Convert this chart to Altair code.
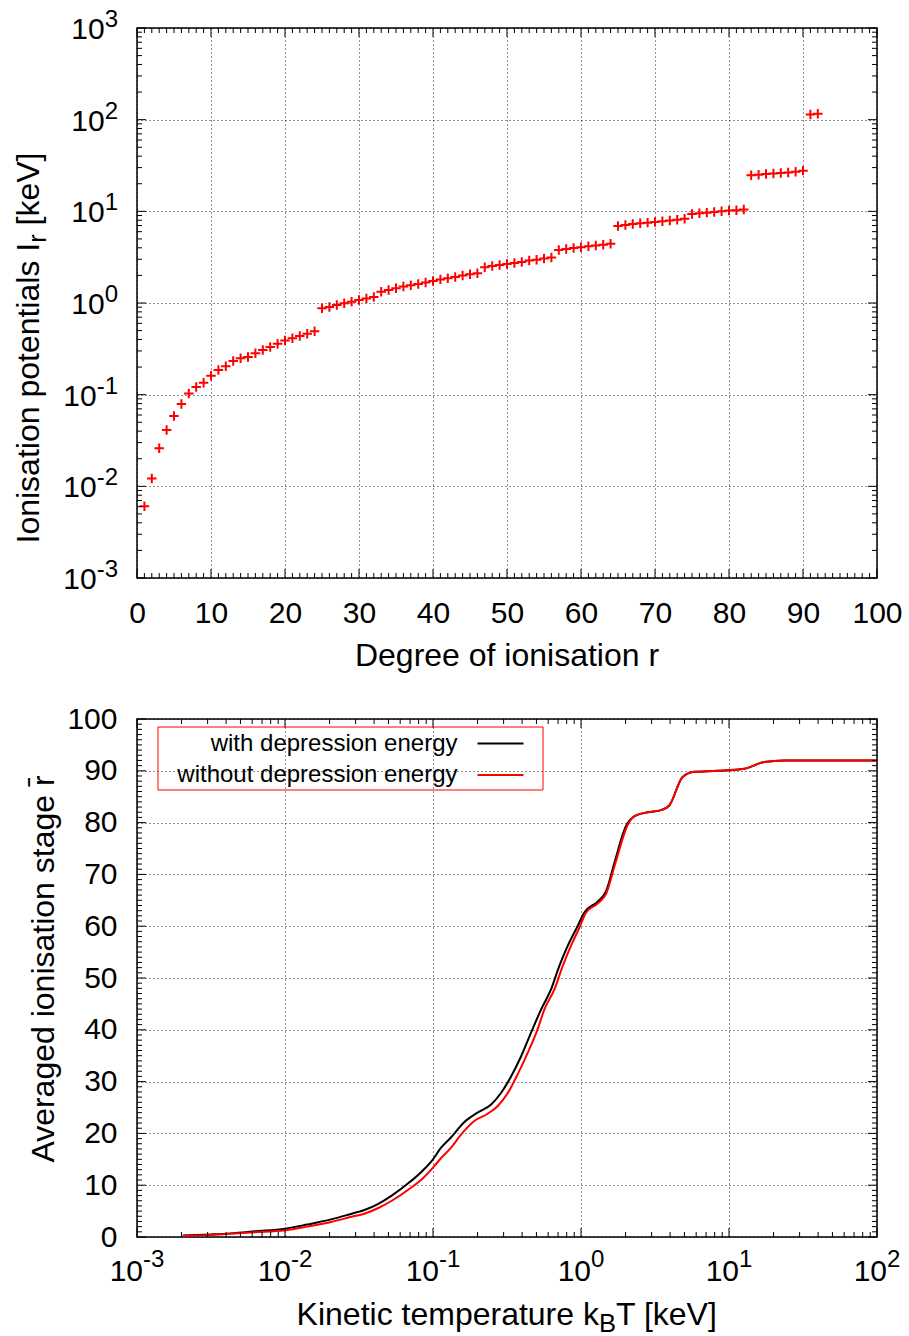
import altair as alt
import pandas as pd

FONT = "Liberation Sans"

# ---------------- data: top panel (ionisation potentials) ----------------
ion_stage = list(range(1, 93))
ion_potential_keV = [
    0.00607, 0.0122, 0.026, 0.0412, 0.0586, 0.0792, 0.103, 0.121, 0.135, 0.161,
    0.186, 0.204, 0.233, 0.249, 0.258, 0.283, 0.307, 0.331, 0.36, 0.389,
    0.412, 0.436, 0.463, 0.491, 0.875, 0.904, 0.951, 0.993, 1.035, 1.08,
    1.12, 1.16, 1.33, 1.39, 1.45, 1.51, 1.56, 1.61, 1.67, 1.74,
    1.81, 1.86, 1.92, 1.99, 2.06, 2.11, 2.45, 2.53, 2.59, 2.66,
    2.73, 2.80, 2.90, 2.97, 3.05, 3.13, 3.78, 3.88, 3.98, 4.05,
    4.15, 4.23, 4.33, 4.44, 6.92, 7.09, 7.27, 7.40, 7.53, 7.64,
    7.78, 7.92, 8.11, 8.32, 9.35, 9.51, 9.68, 9.83, 10.0, 10.2,
    10.3, 10.5, 24.7, 25.1, 25.5, 25.8, 26.2, 26.6, 27.1, 27.8,
    114, 116,
]

# ---------------- data: bottom panel (averaged ionisation stage) ----------------
temp_with_keV = [
    0.00204, 0.00316, 0.00432, 0.00631, 0.01, 0.0141, 0.0205, 0.0282, 0.0344, 0.0427,
    0.052, 0.071, 0.0851, 0.1, 0.113, 0.132, 0.163, 0.2, 0.247, 0.288,
    0.337, 0.394, 0.459, 0.537, 0.627, 0.713, 0.813, 0.948, 1.05, 1.30,
    1.48, 1.68, 2.01, 2.29, 2.82, 3.48, 3.95, 4.86, 5.83, 8.39,
    12.7, 17.3, 23.6, 100,
]
stage_with = [
    0.3, 0.5, 0.7, 1.1, 1.6, 2.4, 3.4, 4.5, 5.2, 6.4,
    7.9, 10.8, 12.8, 15.0, 17.2, 19.2, 22.2, 24.0, 25.6, 27.8,
    31.0, 34.9, 39.4, 43.9, 47.8, 52.3, 56.2, 60.0, 62.6, 64.8,
    66.8, 72.2, 79.3, 81.2, 82.0, 82.4, 83.3, 88.8, 89.8, 90.0,
    90.4, 91.7, 92.0, 92.0,
]
temp_without_keV = [
    0.00204, 0.00316, 0.00631, 0.01, 0.0141, 0.0205, 0.0282, 0.0344, 0.0427, 0.052,
    0.071, 0.0851, 0.1, 0.113, 0.132, 0.155, 0.19, 0.234, 0.274, 0.32,
    0.373, 0.437, 0.509, 0.565, 0.661, 0.752, 0.855, 0.975, 1.08, 1.30,
    1.48, 1.72, 2.07, 2.29, 2.82, 3.48, 3.95, 4.86, 5.83, 8.39,
    12.7, 17.3, 23.6, 100,
]
stage_without = [
    0.2, 0.4, 0.9, 1.3, 2.0, 2.9, 3.9, 4.5, 5.6, 6.9,
    9.5, 11.3, 13.4, 15.2, 17.2, 19.8, 22.4, 23.8, 25.3, 27.8,
    31.4, 35.6, 40.1, 43.9, 47.8, 52.3, 56.2, 59.7, 62.6, 64.4,
    66.3, 72.5, 79.6, 81.2, 82.0, 82.4, 83.3, 88.8, 89.8, 90.0,
    90.4, 91.7, 92.0, 92.0,
]
series_names = ["with depression energy", "without depression energy"]
series_colors = ["#000000", "#ff0000"]

# ---------------- tick values ----------------
top_x_major = list(range(0, 101, 10))
top_x_minor = [v for v in range(1, 100) if v % 10]
top_y_decades = [1e-3, 1e-2, 1e-1, 1e0, 1e1, 1e2, 1e3]
top_y_exponents = ["-3", "-2", "-1", "0", "1", "2", "3"]
top_y_minor = [k * d for d in top_y_decades[:-1] for k in range(2, 10)]
bot_x_decades = [1e-3, 1e-2, 1e-1, 1e0, 1e1, 1e2]
bot_x_exponents = ["-3", "-2", "-1", "0", "1", "2"]
bot_x_minor = [k * d for d in bot_x_decades[:-1] for k in range(2, 10)]
bot_y_major = list(range(0, 101, 10))
bot_y_minor = [v for v in range(1, 100) if v % 10]

# ---------------- layout / style ----------------
W, H1, H2 = 740, 550, 518
LBL, TTL, EXP, LEG = 30, 32, 24, 24
MAJ, MIN = 9, 5

ARIAL = {' ': 278, '[': 278, ']': 278, 'I': 278, 'A': 667, 'B': 667, 'D': 722, 'K': 667,
         'T': 611, 'V': 667, 'a': 556, 'c': 500, 'd': 556, 'e': 556, 'g': 556, 'h': 556,
         'i': 222, 'k': 500, 'l': 222, 'm': 833, 'n': 556, 'o': 556, 'p': 556, 'r': 333,
         's': 500, 't': 278, 'u': 556, 'v': 500, 'w': 722, 'y': 500, 'f': 278, '-': 333}


def tw(s, size):
    return sum(ARIAL.get(c, 556) for c in s) * size / 1000.0


grid_kw = dict(grid=True, gridDash=[1, 3], gridColor="#000000", gridOpacity=0.85,
               gridWidth=1, ticks=False, domain=False, title=None)

# scales and axes (the same objects are reused by every layer that shares a channel)
xs1 = alt.Scale(domain=[0, 100], nice=False, zero=False)
ys1 = alt.Scale(type="log", domain=[1e-3, 1e3], nice=False)
xs2 = alt.Scale(type="log", domain=[1e-3, 1e2], nice=False)
ys2 = alt.Scale(domain=[0, 100], nice=False, zero=False)

ax_x1 = alt.Axis(values=top_x_major, labelFont=FONT, labelFontSize=LBL, labelPadding=20,
                 labelFlush=False, labelColor="black", labelOverlap=False, **grid_kw)
ax_y1 = alt.Axis(values=top_y_decades, labels=False, **grid_kw)
ax_x2 = alt.Axis(values=bot_x_decades, labels=False, **grid_kw)
ax_y2 = alt.Axis(values=bot_y_major, labelFont=FONT, labelFontSize=LBL, labelPadding=20,
                 labelColor="black", labelFlush=False, labelOverlap=False, **grid_kw)

AXES = {"r": (xs1, ax_x1), "I": (ys1, ax_y1), "T": (xs2, ax_x2), "rbar": (ys2, ax_y2)}


def X(field):
    s, a = AXES[field]
    return alt.X(f"{field}:Q", scale=s, axis=a)


def Y(field):
    s, a = AXES[field]
    return alt.Y(f"{field}:Q", scale=s, axis=a)


def rules(vals, field, side, length, H):
    df = pd.DataFrame({field: vals})
    base = alt.Chart(df).mark_rule(color="black", strokeWidth=1)
    if side in ("bottom", "top"):
        enc = dict(x=X(field))
        if side == "bottom":
            enc.update(y=alt.value(H), y2=alt.value(H - length))
        else:
            enc.update(y=alt.value(0), y2=alt.value(length))
    else:
        enc = dict(y=Y(field))
        if side == "left":
            enc.update(x=alt.value(0), x2=alt.value(length))
        else:
            enc.update(x=alt.value(W), x2=alt.value(W - length))
    return base.encode(**enc)


def text_at(s, x, y, size, align="left", baseline="alphabetic", angle=0):
    kw = dict(font=FONT, fontSize=size, align=align, baseline=baseline, color="black")
    if angle:
        kw["angle"] = angle
    return alt.Chart(pd.DataFrame({"t": [s]})).mark_text(**kw).encode(
        text="t:N", x=alt.value(x), y=alt.value(y))


# ======================= top panel =======================
df_top = pd.DataFrame({"r": ion_stage, "I": ion_potential_keV})
CROSS = "M-1,0L1,0M0,-1L0,1"

top_points = alt.Chart(df_top).mark_point(
    shape=CROSS, filled=False, stroke="#ff0000", strokeWidth=2, size=90, opacity=1
).encode(x=X("r"), y=Y("I"))

top_ticks = [
    rules(top_x_major, "r", "bottom", MAJ, H1), rules(top_x_major, "r", "top", MAJ, H1),
    rules(top_x_minor, "r", "bottom", MIN, H1), rules(top_x_minor, "r", "top", MIN, H1),
    rules(top_y_decades, "I", "left", MAJ, H1), rules(top_y_decades, "I", "right", MAJ, H1),
    rules(top_y_minor, "I", "left", MIN, H1), rules(top_y_minor, "I", "right", MIN, H1),
]

df_tyl = pd.DataFrame({"I": top_y_decades, "base": ["10"] * len(top_y_decades), "exp": top_y_exponents})
tyl_neg = df_tyl[df_tyl["exp"].str.startswith("-")]
tyl_pos = df_tyl[~df_tyl["exp"].str.startswith("-")]


def ylab10(df, xoff):
    return alt.Chart(df).mark_text(font=FONT, fontSize=LBL, align="right", baseline="middle",
                                   dy=2, color="black").encode(
        y=Y("I"), x=alt.value(xoff), text="base:N")


top_ylabels = [
    ylab10(tyl_neg, -19 - tw("-3", EXP)),
    ylab10(tyl_pos, -19 - tw("3", EXP)),
    alt.Chart(df_tyl).mark_text(font=FONT, fontSize=EXP, align="right", baseline="middle",
                                dy=-8, color="black").encode(
        y=Y("I"), x=alt.value(-19), text="exp:N"),
]

top_xtitle = text_at("Degree of ionisation r", W / 2, H1 + 88, TTL, align="center")

# rotated y title with subscript r
yc1, xb1 = 320, -98
p1 = "Ionisation potentials I"
w1 = tw(p1, TTL)
w2 = tw("r", TTL * 0.8)
wsp = tw(" ", TTL)
start1 = yc1 + (w1 + w2 + wsp + tw("[keV]", TTL)) / 2
top_ytitle = [
    text_at(p1, xb1, start1, TTL, angle=270),
    text_at("r", xb1 + 7, start1 - w1, TTL * 0.8, angle=270),
    text_at("[keV]", xb1, start1 - w1 - w2 - wsp, TTL, angle=270),
]

top = alt.layer(top_points, *top_ticks, *top_ylabels, top_xtitle, *top_ytitle).properties(
    width=W, height=H1)

# ======================= bottom panel =======================
df_lines = pd.concat([
    pd.DataFrame({"T": temp_with_keV, "rbar": stage_with, "series": series_names[0]}),
    pd.DataFrame({"T": temp_without_keV, "rbar": stage_without, "series": series_names[1]}),
], ignore_index=True)

lines = alt.Chart(df_lines).mark_line(strokeWidth=2, clip=True, interpolate="monotone").encode(
    x=X("T"), y=Y("rbar"),
    color=alt.Color("series:N", scale=alt.Scale(domain=series_names, range=series_colors), legend=None),
    order=alt.Order("T:Q"),
)

bot_ticks = [
    rules(bot_x_decades, "T", "bottom", MAJ, H2), rules(bot_x_decades, "T", "top", MAJ, H2),
    rules(bot_x_minor, "T", "bottom", MIN, H2), rules(bot_x_minor, "T", "top", MIN, H2),
    rules(bot_y_major, "rbar", "left", MAJ, H2), rules(bot_y_major, "rbar", "right", MAJ, H2),
    rules(bot_y_minor, "rbar", "left", MIN, H2), rules(bot_y_minor, "rbar", "right", MIN, H2),
]

df_bxl = pd.DataFrame({"T": bot_x_decades, "base": ["10"] * len(bot_x_decades), "exp": bot_x_exponents})
bxl_neg = df_bxl[df_bxl["exp"].str.startswith("-")]
bxl_pos = df_bxl[~df_bxl["exp"].str.startswith("-")]


def xlab(df, dx):
    a = alt.Chart(df).mark_text(font=FONT, fontSize=LBL, align="right", baseline="middle",
                                dx=dx, color="black").encode(
        x=X("T"), y=alt.value(H2 + 35), text="base:N")
    b = alt.Chart(df).mark_text(font=FONT, fontSize=EXP, align="left", baseline="middle",
                                dx=dx, color="black").encode(
        x=X("T"), y=alt.value(H2 + 23), text="exp:N")
    return [a, b]


w10 = tw("10", LBL)
bot_xlabels = xlab(bxl_neg, (w10 - tw("-3", EXP)) / 2) + xlab(bxl_pos, (w10 - tw("3", EXP)) / 2)

# x title with subscript B
q1 = "Kinetic temperature k"
q3 = "T [keV]"
wq1, wq2, wq3 = tw(q1, TTL), tw("B", TTL * 0.8), tw(q3, TTL)
sx = W / 2 - (wq1 + wq2 + wq3) / 2
bot_xtitle = [
    text_at(q1, sx, H2 + 88, TTL),
    text_at("B", sx + wq1, H2 + 95, TTL * 0.8),
    text_at(q3, sx + wq1 + wq2, H2 + 88, TTL),
]
bot_ytitle = text_at("Averaged ionisation stage r\u0304", -83, 250, TTL, align="center", angle=270)

# legend (box, labels on the left, samples on the right)
leg_box = alt.Chart(pd.DataFrame({"k": [0]})).mark_rect(
    filled=False, stroke="#ff0000", strokeWidth=1, fillOpacity=0).encode(
    x=alt.value(21), x2=alt.value(406), y=alt.value(8), y2=alt.value(71))
legend_layers = [leg_box]
for i, (nm, col) in enumerate(zip(series_names, series_colors)):
    yy = 24.5 + i * 31.5
    legend_layers.append(text_at(nm, 320.5, yy, LEG, align="right", baseline="middle"))
    legend_layers.append(
        alt.Chart(pd.DataFrame({"s": [nm]})).mark_rule(color=col, strokeWidth=2).encode(
            x=alt.value(340.5), x2=alt.value(386.5), y=alt.value(yy)))

bottom = alt.layer(lines, *bot_ticks, *bot_xlabels, *bot_xtitle, bot_ytitle, *legend_layers).properties(
    width=W, height=H2)

chart = alt.vconcat(top, bottom, spacing=141, bounds="flush").properties(
    padding={"left": 12, "top": 7, "right": 0, "bottom": 0},
    background="white",
).configure_view(stroke="black", strokeWidth=1.5)

chart.save("out.html", embed_options={"renderer": "svg", "actions": False})
